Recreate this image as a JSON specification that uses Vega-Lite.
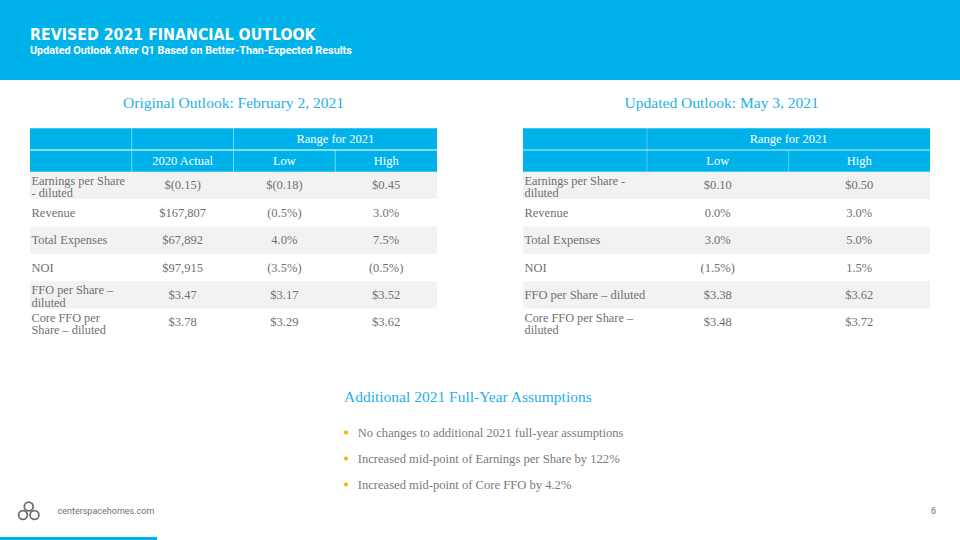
{
"$schema":"https://vega.github.io/schema/vega-lite/v6.json",
"width":960,"height":540,"autosize":"none","padding":0,"background":"#ffffff",
"config":{"view":{"stroke":null},"axis":{"disable":true},"legend":{"disable":true}},
"datasets":{
 "banner":[{"part":"banner"}],
 "titles":[{"line":"title","text":"REVISED 2021 FINANCIAL OUTLOOK"},{"line":"subtitle","text":"Updated Outlook After Q1 Based on Better-Than-Expected Results"}],
 "sections":[{"section":"orig","text":"Original Outlook: February 2, 2021"},{"section":"upd","text":"Updated Outlook: May 3, 2021"}],
 "assumeTitle":[{"section":"assume","text":"Additional 2021 Full-Year Assumptions"}],
 "headers":[
  {"table":"orig","hrow":"h1","col":"High","text":"Range for 2021"},
  {"table":"orig","hrow":"h2","col":"2020 Actual","text":"2020 Actual"},
  {"table":"orig","hrow":"h2","col":"Low","text":"Low"},
  {"table":"orig","hrow":"h2","col":"High","text":"High"},
  {"table":"upd","hrow":"h1","col":"High","text":"Range for 2021"},
  {"table":"upd","hrow":"h2","col":"Low","text":"Low"},
  {"table":"upd","hrow":"h2","col":"High","text":"High"}
 ],
 "dividers":[
  {"table":"orig","col":"2020 Actual","span":"both"},
  {"table":"orig","col":"Low","span":"both"},
  {"table":"orig","col":"High","span":"lower"},
  {"table":"upd","col":"Low","span":"both"},
  {"table":"upd","col":"High","span":"lower"}
 ],
 "cells":[
  {"table":"orig","idx":1,"metric":"EPS","col":"label","text":"Earnings per Share\n- diluted"},
  {"table":"orig","idx":1,"metric":"EPS","col":"2020 Actual","text":"$(0.15)"},
  {"table":"orig","idx":1,"metric":"EPS","col":"Low","text":"$(0.18)"},
  {"table":"orig","idx":1,"metric":"EPS","col":"High","text":"$0.45"},
  {"table":"orig","idx":2,"metric":"Revenue","col":"label","text":"Revenue"},
  {"table":"orig","idx":2,"metric":"Revenue","col":"2020 Actual","text":"$167,807"},
  {"table":"orig","idx":2,"metric":"Revenue","col":"Low","text":"(0.5%)"},
  {"table":"orig","idx":2,"metric":"Revenue","col":"High","text":"3.0%"},
  {"table":"orig","idx":3,"metric":"Total Expenses","col":"label","text":"Total Expenses"},
  {"table":"orig","idx":3,"metric":"Total Expenses","col":"2020 Actual","text":"$67,892"},
  {"table":"orig","idx":3,"metric":"Total Expenses","col":"Low","text":"4.0%"},
  {"table":"orig","idx":3,"metric":"Total Expenses","col":"High","text":"7.5%"},
  {"table":"orig","idx":4,"metric":"NOI","col":"label","text":"NOI"},
  {"table":"orig","idx":4,"metric":"NOI","col":"2020 Actual","text":"$97,915"},
  {"table":"orig","idx":4,"metric":"NOI","col":"Low","text":"(3.5%)"},
  {"table":"orig","idx":4,"metric":"NOI","col":"High","text":"(0.5%)"},
  {"table":"orig","idx":5,"metric":"FFO","col":"label","text":"FFO per Share –\ndiluted"},
  {"table":"orig","idx":5,"metric":"FFO","col":"2020 Actual","text":"$3.47"},
  {"table":"orig","idx":5,"metric":"FFO","col":"Low","text":"$3.17"},
  {"table":"orig","idx":5,"metric":"FFO","col":"High","text":"$3.52"},
  {"table":"orig","idx":6,"metric":"Core FFO","col":"label","text":"Core FFO per\nShare – diluted"},
  {"table":"orig","idx":6,"metric":"Core FFO","col":"2020 Actual","text":"$3.78"},
  {"table":"orig","idx":6,"metric":"Core FFO","col":"Low","text":"$3.29"},
  {"table":"orig","idx":6,"metric":"Core FFO","col":"High","text":"$3.62"},
  {"table":"upd","idx":1,"metric":"EPS","col":"label","text":"Earnings per Share -\ndiluted"},
  {"table":"upd","idx":1,"metric":"EPS","col":"Low","text":"$0.10"},
  {"table":"upd","idx":1,"metric":"EPS","col":"High","text":"$0.50"},
  {"table":"upd","idx":2,"metric":"Revenue","col":"label","text":"Revenue"},
  {"table":"upd","idx":2,"metric":"Revenue","col":"Low","text":"0.0%"},
  {"table":"upd","idx":2,"metric":"Revenue","col":"High","text":"3.0%"},
  {"table":"upd","idx":3,"metric":"Total Expenses","col":"label","text":"Total Expenses"},
  {"table":"upd","idx":3,"metric":"Total Expenses","col":"Low","text":"3.0%"},
  {"table":"upd","idx":3,"metric":"Total Expenses","col":"High","text":"5.0%"},
  {"table":"upd","idx":4,"metric":"NOI","col":"label","text":"NOI"},
  {"table":"upd","idx":4,"metric":"NOI","col":"Low","text":"(1.5%)"},
  {"table":"upd","idx":4,"metric":"NOI","col":"High","text":"1.5%"},
  {"table":"upd","idx":5,"metric":"FFO","col":"label","text":"FFO per Share – diluted"},
  {"table":"upd","idx":5,"metric":"FFO","col":"Low","text":"$3.38"},
  {"table":"upd","idx":5,"metric":"FFO","col":"High","text":"$3.62"},
  {"table":"upd","idx":6,"metric":"Core FFO","col":"label","text":"Core FFO per Share –\ndiluted"},
  {"table":"upd","idx":6,"metric":"Core FFO","col":"Low","text":"$3.48"},
  {"table":"upd","idx":6,"metric":"Core FFO","col":"High","text":"$3.72"}
 ],
 "assumptions":[
  {"item":1,"text":"No changes to additional 2021 full-year assumptions"},
  {"item":2,"text":"Increased mid-point of Earnings per Share by 122%"},
  {"item":3,"text":"Increased mid-point of Core FFO by 4.2%"}
 ],
 "footer":[{"item":"site","text":"centerspacehomes.com"},{"item":"page","text":"6"}],
 "logo":[{"loop":"top","tier":"upper"},{"loop":"left","tier":"lower"},{"loop":"right","tier":"lower"}],
 "accent":[{"part":"accent"}]
},
"layer":[
 {"data":{"name":"banner"},"mark":{"type":"rect","color":"#00b2ea"},
  "encoding":{"x":{"field":"part","type":"nominal","scale":{"type":"band","domain":["banner"],"range":[0,960],"padding":0}},
              "y":{"field":"part","type":"nominal","scale":{"type":"band","domain":["banner"],"range":[0,80],"padding":0}}}},
 {"data":{"name":"titles"},"transform":[{"filter":"datum.line==='title'"}],
  "mark":{"type":"text","align":"left","baseline":"alphabetic","font":"DejaVu Sans Condensed, Roboto, sans-serif","fontWeight":"bold","fontSize":15.8,"color":"#ffffff"},
  "encoding":{"x":{"field":"line","type":"nominal","scale":{"type":"point","domain":["title","subtitle"],"range":[30,30],"padding":0}},
              "y":{"field":"line","type":"nominal","scale":{"type":"point","domain":["title","subtitle"],"range":[39.5,53.5],"padding":0}},
              "text":{"field":"text"}}},
 {"data":{"name":"titles"},"transform":[{"filter":"datum.line==='subtitle'"}],
  "mark":{"type":"text","align":"left","baseline":"alphabetic","font":"Roboto, sans-serif","fontWeight":"bold","fontSize":10.8,"color":"#ffffff"},
  "encoding":{"x":{"field":"line","type":"nominal","scale":{"type":"point","domain":["title","subtitle"],"range":[30,30],"padding":0}},
              "y":{"field":"line","type":"nominal","scale":{"type":"point","domain":["title","subtitle"],"range":[39.5,53.5],"padding":0}},
              "text":{"field":"text"}}},
 {"data":{"name":"sections"},
  "mark":{"type":"text","align":"center","baseline":"alphabetic","font":"Liberation Serif, serif","fontSize":15.5,"color":"#1fb0e8"},
  "encoding":{"x":{"field":"section","type":"nominal","scale":{"type":"point","domain":["orig","upd"],"range":[233.5,721.7],"padding":0}},
              "y":{"field":"section","type":"nominal","scale":{"type":"point","domain":["orig","upd"],"range":[108.3,108.3],"padding":0}},
              "text":{"field":"text"}}},
 {"data":{"name":"assumeTitle"},
  "mark":{"type":"text","align":"left","baseline":"alphabetic","font":"Liberation Serif, serif","fontSize":15.5,"color":"#1fb0e8"},
  "encoding":{"x":{"field":"section","type":"nominal","scale":{"type":"point","domain":["assume"],"range":[344,344],"padding":0}},
              "y":{"field":"section","type":"nominal","scale":{"type":"point","domain":["assume"],"range":[401.7,401.7],"padding":0}},
              "text":{"field":"text"}}},
 {"data":{"name":"headers"},"mark":{"type":"rect","color":"#00b2ea"},
  "encoding":{"x":{"field":"table","type":"nominal","scale":{"type":"band","domain":["orig","upd"],"range":[30,930],"paddingInner":0.1744,"paddingOuter":0}},
              "y":{"field":"hrow","type":"nominal","scale":{"type":"band","domain":["h1","h2"],"range":[128.3,171.7],"padding":0}}}},
 {"data":{"name":"cells"},"transform":[{"filter":"datum.col==='label' && datum.idx % 2 === 1"}],
  "mark":{"type":"rect","color":"#f2f2f2"},
  "encoding":{"x":{"field":"table","type":"nominal","scale":{"type":"band","domain":["orig","upd"],"range":[30,930],"paddingInner":0.1744,"paddingOuter":0}},
              "y":{"field":"metric","type":"nominal","scale":{"type":"band","domain":["EPS","Revenue","Total Expenses","NOI","FFO","Core FFO"],"range":[171.7,336],"padding":0}}}},
 {"data":{"name":"dividers"},"transform":[{"filter":"datum.table==='orig'"}],
  "mark":{"type":"tick","orient":"vertical","thickness":1,"color":"#ffffff","opacity":0.45},
  "encoding":{"x":{"field":"col","type":"nominal","bandPosition":0,"scale":{"type":"band","domain":["label","2020 Actual","Low","High"],"range":[30,437],"padding":0}},
              "y":{"field":"span","type":"nominal","scale":{"type":"point","domain":["both","lower"],"range":[150,160.85],"padding":0}},
              "size":{"field":"span","type":"ordinal","scale":{"type":"ordinal","domain":["both","lower"],"range":[43.4,21.7]}}}},
 {"data":{"name":"dividers"},"transform":[{"filter":"datum.table==='upd'"}],
  "mark":{"type":"tick","orient":"vertical","thickness":1,"color":"#ffffff","opacity":0.3},
  "encoding":{"x":{"field":"col","type":"nominal","bandPosition":0,"scale":{"type":"band","domain":["Low","High"],"range":[647,930],"padding":0}},
              "y":{"field":"span","type":"nominal","scale":{"type":"point","domain":["both","lower"],"range":[150,160.85],"padding":0}},
              "size":{"field":"span","type":"ordinal","scale":{"type":"ordinal","domain":["both","lower"],"range":[43.4,21.7]}}}},
 {"data":{"name":"headers"},"transform":[{"filter":"datum.hrow==='h2'"}],
  "mark":{"type":"tick","orient":"horizontal","thickness":1,"size":407,"color":"#ffffff","opacity":0.45},
  "encoding":{"x":{"field":"table","type":"nominal","scale":{"type":"band","domain":["orig","upd"],"range":[30,930],"paddingInner":0.1744,"paddingOuter":0}},
              "y":{"field":"hrow","type":"nominal","bandPosition":0,"scale":{"type":"band","domain":["h1","h2"],"range":[128.3,171.7],"padding":0}}}},
 {"data":{"name":"headers"},"transform":[{"filter":"datum.table==='orig' && datum.hrow==='h1'"}],
  "mark":{"type":"text","align":"center","baseline":"middle","font":"Liberation Serif, serif","fontSize":12.5,"color":"#ffffff"},
  "encoding":{"x":{"field":"col","type":"nominal","bandPosition":0,"scale":{"type":"band","domain":["label","2020 Actual","Low","High"],"range":[30,437],"padding":0}},
              "y":{"field":"hrow","type":"nominal","scale":{"type":"band","domain":["h1","h2"],"range":[128.3,171.7],"padding":0}},
              "text":{"field":"text"}}},
 {"data":{"name":"headers"},"transform":[{"filter":"datum.table==='orig' && datum.hrow==='h2'"}],
  "mark":{"type":"text","align":"center","baseline":"middle","font":"Liberation Serif, serif","fontSize":12.5,"color":"#ffffff"},
  "encoding":{"x":{"field":"col","type":"nominal","scale":{"type":"band","domain":["label","2020 Actual","Low","High"],"range":[30,437],"padding":0}},
              "y":{"field":"hrow","type":"nominal","scale":{"type":"band","domain":["h1","h2"],"range":[128.3,171.7],"padding":0}},
              "text":{"field":"text"}}},
 {"data":{"name":"headers"},"transform":[{"filter":"datum.table==='upd' && datum.hrow==='h1'"}],
  "mark":{"type":"text","align":"center","baseline":"middle","font":"Liberation Serif, serif","fontSize":12.5,"color":"#ffffff"},
  "encoding":{"x":{"field":"col","type":"nominal","bandPosition":0,"scale":{"type":"band","domain":["Low","High"],"range":[647,930],"padding":0}},
              "y":{"field":"hrow","type":"nominal","scale":{"type":"band","domain":["h1","h2"],"range":[128.3,171.7],"padding":0}},
              "text":{"field":"text"}}},
 {"data":{"name":"headers"},"transform":[{"filter":"datum.table==='upd' && datum.hrow==='h2'"}],
  "mark":{"type":"text","align":"center","baseline":"middle","font":"Liberation Serif, serif","fontSize":12.5,"color":"#ffffff"},
  "encoding":{"x":{"field":"col","type":"nominal","scale":{"type":"band","domain":["Low","High"],"range":[647,930],"padding":0}},
              "y":{"field":"hrow","type":"nominal","scale":{"type":"band","domain":["h1","h2"],"range":[128.3,171.7],"padding":0}},
              "text":{"field":"text"}}},
 {"data":{"name":"cells"},"transform":[{"filter":"datum.col==='label' && indexof(datum.text,'\\n') < 0"}],
  "mark":{"type":"text","align":"left","baseline":"middle","dx":1.5,"font":"Liberation Serif, serif","fontSize":12.5,"color":"#707070"},
  "encoding":{"x":{"field":"table","type":"nominal","bandPosition":0,"scale":{"type":"band","domain":["orig","upd"],"range":[30,930],"paddingInner":0.1744,"paddingOuter":0}},
              "y":{"field":"metric","type":"nominal","scale":{"type":"band","domain":["EPS","Revenue","Total Expenses","NOI","FFO","Core FFO"],"range":[171.7,336],"padding":0}},
              "text":{"field":"text"}}},
 {"data":{"name":"cells"},"transform":[{"filter":"datum.col==='label' && indexof(datum.text,'\\n') >= 0"}],
  "mark":{"type":"text","align":"left","baseline":"middle","dx":1.5,"dy":-4.5,"font":"Liberation Serif, serif","fontSize":12.3,"lineBreak":"\n","lineHeight":12.3,"color":"#707070"},
  "encoding":{"x":{"field":"table","type":"nominal","bandPosition":0,"scale":{"type":"band","domain":["orig","upd"],"range":[30,930],"paddingInner":0.1744,"paddingOuter":0}},
              "y":{"field":"metric","type":"nominal","scale":{"type":"band","domain":["EPS","Revenue","Total Expenses","NOI","FFO","Core FFO"],"range":[171.7,336],"padding":0}},
              "text":{"field":"text"}}},
 {"data":{"name":"cells"},"transform":[{"filter":"datum.table==='orig' && datum.col!=='label'"}],
  "mark":{"type":"text","align":"center","baseline":"middle","font":"Liberation Serif, serif","fontSize":12.5,"color":"#707070"},
  "encoding":{"x":{"field":"col","type":"nominal","scale":{"type":"band","domain":["label","2020 Actual","Low","High"],"range":[30,437],"padding":0}},
              "y":{"field":"metric","type":"nominal","scale":{"type":"band","domain":["EPS","Revenue","Total Expenses","NOI","FFO","Core FFO"],"range":[171.7,336],"padding":0}},
              "text":{"field":"text"}}},
 {"data":{"name":"cells"},"transform":[{"filter":"datum.table==='upd' && datum.col!=='label'"}],
  "mark":{"type":"text","align":"center","baseline":"middle","font":"Liberation Serif, serif","fontSize":12.5,"color":"#707070"},
  "encoding":{"x":{"field":"col","type":"nominal","scale":{"type":"band","domain":["Low","High"],"range":[647,930],"padding":0}},
              "y":{"field":"metric","type":"nominal","scale":{"type":"band","domain":["EPS","Revenue","Total Expenses","NOI","FFO","Core FFO"],"range":[171.7,336],"padding":0}},
              "text":{"field":"text"}}},
 {"data":{"name":"assumptions"},
  "mark":{"type":"point","shape":"square","filled":true,"size":13,"color":"#f5b400","opacity":1},
  "encoding":{"x":{"field":"item","type":"ordinal","scale":{"type":"point","domain":[1,2,3],"range":[346,346],"padding":0}},
              "y":{"field":"item","type":"ordinal","scale":{"type":"point","domain":[1,2,3],"range":[432.5,484.5],"padding":0}}}},
 {"data":{"name":"assumptions"},
  "mark":{"type":"text","align":"left","baseline":"middle","font":"Liberation Serif, serif","fontSize":12.6,"color":"#7a7a7a"},
  "encoding":{"x":{"field":"item","type":"ordinal","scale":{"type":"point","domain":[1,2,3],"range":[357.7,357.7],"padding":0}},
              "y":{"field":"item","type":"ordinal","scale":{"type":"point","domain":[1,2,3],"range":[432.5,484.5],"padding":0}},
              "text":{"field":"text"}}},
 {"data":{"name":"footer"},
  "mark":{"type":"text","align":"left","baseline":"middle","font":"Roboto, sans-serif","fontSize":9,"color":"#707070"},
  "encoding":{"x":{"field":"item","type":"nominal","scale":{"type":"point","domain":["site","page"],"range":[57.5,931],"padding":0}},
              "y":{"field":"item","type":"nominal","scale":{"type":"point","domain":["site","page"],"range":[511,511],"padding":0}},
              "text":{"field":"text"}}},
 {"data":{"name":"logo"},
  "mark":{"type":"point","shape":"circle","filled":false,"size":78,"strokeWidth":1.8,"color":"#6e6e6e","opacity":1},
  "encoding":{"x":{"field":"loop","type":"nominal","scale":{"type":"point","domain":["left","top","right"],"range":[23,34.5],"padding":0}},
              "y":{"field":"tier","type":"nominal","scale":{"type":"point","domain":["upper","lower"],"range":[506.5,515],"padding":0}}}},
 {"data":{"name":"accent"},"mark":{"type":"rect","color":"#00b2ea"},
  "encoding":{"x":{"field":"part","type":"nominal","scale":{"type":"band","domain":["accent"],"range":[0,157],"padding":0}},
              "y":{"field":"part","type":"nominal","scale":{"type":"band","domain":["accent"],"range":[537,540],"padding":0}}}}
],
"resolve":{"scale":{"x":"independent","y":"independent","size":"independent","color":"independent"}}
}
